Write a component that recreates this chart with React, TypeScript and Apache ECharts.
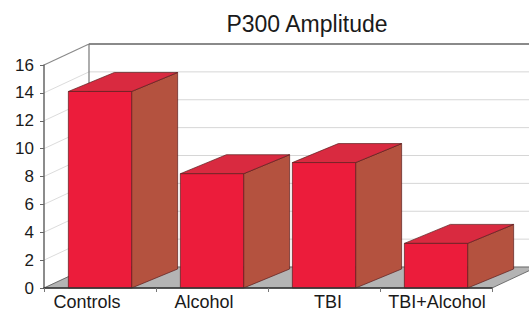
import React, { useEffect, useRef } from "react";
import * as echarts from "echarts";

const categories = ["Controls", "Alcohol", "TBI", "TBI+Alcohol"];
const amplitudes = [14.1, 8.2, 9.0, 3.2];
const yTicks = [0, 2, 4, 6, 8, 10, 12, 14, 16];
const chartTitle = "P300 Amplitude";

const WALL_DX = 45;
const WALL_DY = -21;
const BAR_DX = 46;
const BAR_DY = -19;
const FONT = "'Liberation Sans', Arial, sans-serif";
// horizontal nudges for the category labels (px, positive = right)
const LABEL_SHIFT = [-13, -8, 4, 1];

export default function App() {
  const ref = useRef<HTMLDivElement>(null);
  useEffect(() => {
    if (!ref.current) return;
    const chart = echarts.init(ref.current, null, { renderer: "svg" });
    const nCat = categories.length;
    const rich: any = {};
    LABEL_SHIFT.forEach((s, i) => {
      rich["c" + i] = {
        fontFamily: FONT,
        fontSize: 18,
        color: "#1a1a1a",
        padding: s < 0 ? [0, -2 * s, 0, 0] : [0, 0, 0, 2 * s],
      };
    });
    chart.setOption({
      animation: false,
      backgroundColor: "#ffffff",
      title: {
        text: chartTitle,
        left: 302,
        textAlign: "center",
        top: 7,
        textStyle: { fontFamily: FONT, fontSize: 23, fontWeight: "normal", color: "#1a1a1a" },
      },
      grid: { left: 44, right: 37, top: 65, bottom: 24 },
      xAxis: {
        type: "category",
        data: categories,
        axisLine: { show: true, lineStyle: { color: "#333", width: 1.5 } },
        axisTick: { show: true, length: 4, lineStyle: { color: "#777" } },
        axisLabel: {
          fontFamily: FONT,
          fontSize: 18,
          color: "#1a1a1a",
          margin: 5,
          interval: 0,
          formatter: (val: string, idx: number) => `{c${idx}|${val}}`,
          rich,
        },
        z: 5,
      },
      yAxis: {
        type: "value",
        min: 0,
        max: 16,
        interval: 2,
        axisLine: { show: true, lineStyle: { color: "#666", width: 1.5 } },
        axisTick: { show: true, length: 4, lineStyle: { color: "#666" } },
        axisLabel: { fontFamily: FONT, fontSize: 17, color: "#1a1a1a", margin: 10 },
        splitLine: { show: false },
      },
      series: [
        {
          type: "custom",
          z: 1,
          data: [[0, 0]],
          renderItem: (params: any, api: any) => {
            const left = api.coord([0, 0]);
            const bw = api.size([1, 0])[0];
            const x0 = left[0] - bw / 2;
            const x1 = x0 + bw * nCat;
            const y0 = left[1];
            const yTop = api.coord([0, 16])[1];
            return {
              type: "group",
              children: [
                {
                  type: "polygon",
                  shape: {
                    points: [
                      [x0, y0],
                      [x1, y0],
                      [x1 + WALL_DX, y0 + WALL_DY],
                      [x0 + WALL_DX, y0 + WALL_DY],
                    ],
                  },
                  style: { fill: "#b4b4b4", stroke: "#555", lineWidth: 0.8 },
                },
                {
                  type: "line",
                  shape: { x1: x0 + WALL_DX, y1: yTop + WALL_DY, x2: x0 + WALL_DX, y2: y0 + WALL_DY },
                  style: { stroke: "#777", lineWidth: 1.2 },
                },
              ],
            };
          },
        },
        {
          type: "custom",
          z: 0,
          data: yTicks.map((v) => [0, v]),
          renderItem: (params: any, api: any) => {
            const v = api.value(1);
            const p = api.coord([0, v]);
            const bw = api.size([1, 0])[0];
            const x0 = p[0] - bw / 2;
            const x1 = x0 + bw * nCat;
            const y = p[1];
            const isTop = v === 16;
            const col = isTop ? "#8a8a8a" : "#d6d6d6";
            const lw = isTop ? 2 : 1;
            return {
              type: "group",
              children: [
                {
                  type: "line",
                  shape: { x1: x0, y1: y, x2: x0 + WALL_DX, y2: y + WALL_DY },
                  style: { stroke: isTop ? "#8a8a8a" : "#dcdcdc", lineWidth: isTop ? 1.2 : 1 },
                },
                {
                  type: "line",
                  shape: { x1: x0 + WALL_DX, y1: y + WALL_DY, x2: x1 + WALL_DX, y2: y + WALL_DY },
                  style: { stroke: col, lineWidth: lw },
                },
              ],
            };
          },
        },
        {
          type: "custom",
          z: 3,
          data: amplitudes.map((v, i) => [i, v]),
          renderItem: (params: any, api: any) => {
            const i = api.value(0);
            const v = api.value(1);
            const top = api.coord([i, v]);
            const base = api.coord([i, 0]);
            const w = api.size([1, 0])[0] * 0.565;
            const xl = top[0] - w / 2;
            const xr = top[0] + w / 2;
            const yt = top[1];
            const yb = base[1];
            const edge = { stroke: "#5a1c1c", lineWidth: 0.7 };
            return {
              type: "group",
              children: [
                {
                  type: "polygon",
                  shape: {
                    points: [
                      [xr, yt],
                      [xr + BAR_DX, yt + BAR_DY],
                      [xr + BAR_DX, yb + BAR_DY],
                      [xr, yb],
                    ],
                  },
                  style: { fill: "#b4523f", ...edge },
                },
                {
                  type: "polygon",
                  shape: {
                    points: [
                      [xl, yt],
                      [xl + BAR_DX, yt + BAR_DY],
                      [xr + BAR_DX, yt + BAR_DY],
                      [xr, yt],
                    ],
                  },
                  style: { fill: "#d92a40", ...edge },
                },
                {
                  type: "rect",
                  shape: { x: xl, y: yt, width: w, height: yb - yt },
                  style: { fill: "#ec1c3b", ...edge },
                },
              ],
            };
          },
        },
      ],
    });
    return () => chart.dispose();
  }, []);
  return (
    <div
      ref={ref}
      style={{ position: "fixed", left: 0, top: 0, width: 529, height: 312 }}
    />
  );
}
